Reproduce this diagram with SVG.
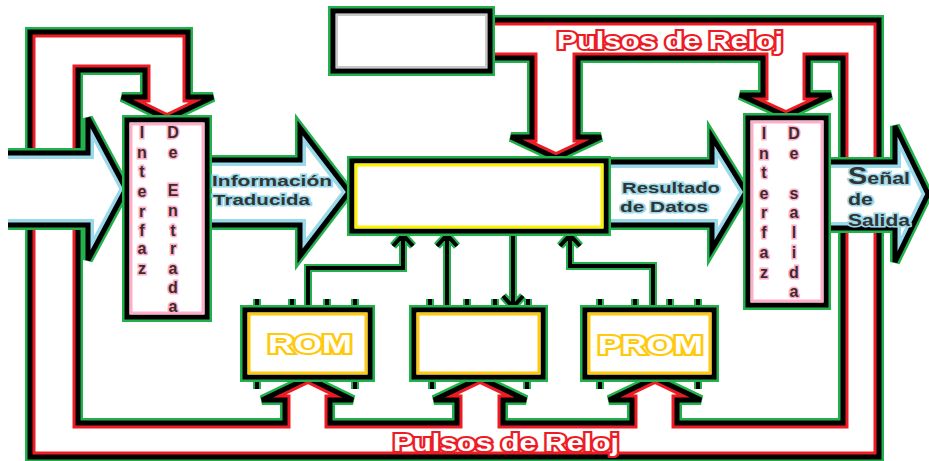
<svg xmlns="http://www.w3.org/2000/svg" width="929" height="461" viewBox="0 0 929 461">
<defs>
<style>
.g{fill:none;stroke:#22b14c;stroke-width:10}
.k{fill:none;stroke:#000;stroke-width:5}
.w{fill:#fff;stroke:none}
.rg{fill:none;stroke:#ed1c24;stroke-width:11}
.bg{fill:none;stroke:#99d9ea;stroke-width:12}
.cg{fill:none;stroke:#22b14c;stroke-width:8}
.ck{fill:none;stroke:#000;stroke-width:4}
.bx{fill:#fff;stroke:#000;stroke-width:5}
.bxg{fill:none;stroke:#22b14c;stroke-width:10}
.t{font-family:"Liberation Sans",Arial,sans-serif;font-weight:bold}
.lt{font-size:16px;fill:#3b2b2b;stroke:#ffaec9;stroke-width:3;paint-order:stroke;text-anchor:middle}
.at{font-size:15px;fill:#333;stroke:#99d9ea;stroke-width:3;paint-order:stroke}
.st{font-size:17px;fill:#333;stroke:#99d9ea;stroke-width:3;paint-order:stroke}
.pt{font-size:24px;fill:#fff;stroke:#ed1c24;stroke-width:4;paint-order:stroke}
.mt{font-size:25px;fill:#fff;stroke:#ffc90e;stroke-width:4;paint-order:stroke}
</style>
<path id="pA" d="M30,165 V32 H188 V97 H213 L167,119 L122,97 H145 V70 H78 V165"/>
<path id="pC" d="M480,20 H879 V170 H843 V58 H808 V95 H831 L786,116 L740,95 H763 V58 H578 V137 H601 L556,158 L511,137 H532 V58 H480"/>
<path id="pD" d="M78,215 V423 H285 V400 H262 L308,378 L353,400 H330 V423 H457 V400 H434 L480,378 L526,400 H503 V423 H632 V400 H609 L655,378 L701,400 H677 V423 H843 V220 H879 V457 H30 V215"/>
<path id="aE" d="M8,153 H88 V118 L126,189 L88,260 V225 H8"/>
<path id="aF" d="M200,160 H300 V128 L349,192 L300,256 V225 H200"/>
<path id="aG" d="M600,162 H712 V137 L746,192 L712,249 V225 H600"/>
<path id="aH" d="M820,162 H895 V126 L928,194 L895,262 V228 H820"/>
<clipPath id="cA"><use href="#pA"/></clipPath>
<clipPath id="cC"><use href="#pC"/></clipPath>
<clipPath id="cD"><use href="#pD"/></clipPath>
<clipPath id="cE"><use href="#aE"/></clipPath>
<clipPath id="cF"><use href="#aF"/></clipPath>
<clipPath id="cG"><use href="#aG"/></clipPath>
<clipPath id="cH"><use href="#aH"/></clipPath>
</defs>
<rect width="929" height="461" fill="#fff"/>

<g id="connectors">
  <g id="clock-top-left"><use href="#pA" class="g"/><use href="#pA" class="w"/><use href="#pA" class="rg" clip-path="url(#cA)"/><use href="#pA" class="k"/></g>
  <g id="clock-top"><use href="#pC" class="g"/><use href="#pC" class="w"/><use href="#pC" class="rg" clip-path="url(#cC)"/><use href="#pC" class="k"/></g>
  <g id="clock-bottom"><use href="#pD" class="g"/><use href="#pD" class="w"/><use href="#pD" class="rg" clip-path="url(#cD)"/><use href="#pD" class="k"/></g>
  <g id="arrow-in"><use href="#aE" class="g"/><use href="#aE" class="w"/><use href="#aE" class="bg" clip-path="url(#cE)"/><use href="#aE" class="k"/></g>
  <g id="arrow-info"><use href="#aF" class="g"/><use href="#aF" class="w"/><use href="#aF" class="bg" clip-path="url(#cF)"/><use href="#aF" class="k"/></g>
  <g id="arrow-result"><use href="#aG" class="g"/><use href="#aG" class="w"/><use href="#aG" class="bg" clip-path="url(#cG)"/><use href="#aG" class="k"/></g>
  <g id="arrow-out"><use href="#aH" class="g"/><use href="#aH" class="w"/><use href="#aH" class="bg" clip-path="url(#cH)"/><use href="#aH" class="k"/></g>
  <g id="buses">
    <path class="cg" d="M308,305 V268 H403 V236 M393,246 L403,235 L413,246 M447,305 V236 M437,246 L447,235 L457,246 M513,234 V306 M503,296 L513,307 L523,296 M653,305 V266 H570 V236 M560,246 L570,235 L580,246"/>
    <path class="ck" d="M308,305 V268 H403 V236 M393,246 L403,235 L413,246 M447,305 V236 M437,246 L447,235 L457,246 M513,234 V306 M503,296 L513,307 L523,296 M653,305 V266 H570 V236 M560,246 L570,235 L580,246"/>
  </g>
</g>

<g id="box-top">
  <rect x="333" y="11" width="157" height="60" class="bxg"/>
  <rect x="333" y="11" width="157" height="60" class="bx"/>
  <rect x="337" y="15" width="149" height="52" fill="none" stroke="#c8c8c8" stroke-width="2"/>
</g>

<g id="box-cpu">
  <rect x="352" y="161" width="254" height="70" class="bxg"/>
  <rect x="352" y="161" width="254" height="70" class="bx"/>
  <rect x="356" y="165" width="246" height="62" fill="none" stroke="#fff200" stroke-width="3"/>
</g>

<g id="interfaz-entrada">
  <rect x="127" y="120" width="80" height="197" class="bxg"/>
  <rect x="127" y="120" width="80" height="197" class="bx"/>
  <rect x="131" y="124" width="72" height="189" fill="none" stroke="#ffaec9" stroke-width="3"/>
  <g class="t lt">
    <text x="142" y="138">I</text><text x="142" y="158">n</text><text x="142" y="177">t</text><text x="142" y="197">e</text><text x="142" y="217">r</text><text x="142" y="236">f</text><text x="142" y="254">a</text><text x="142" y="274">z</text>
    <text x="173" y="138">D</text><text x="173" y="158">e</text><text x="173" y="196">E</text><text x="173" y="216">n</text><text x="173" y="236">t</text><text x="173" y="254">r</text><text x="173" y="274">a</text><text x="173" y="293">d</text><text x="173" y="312">a</text>
  </g>
</g>

<g id="interfaz-salida">
  <rect x="748" y="118" width="78" height="187" class="bxg"/>
  <rect x="748" y="118" width="78" height="187" class="bx"/>
  <rect x="752" y="122" width="70" height="179" fill="none" stroke="#ffaec9" stroke-width="3"/>
  <g class="t lt">
    <text x="764" y="139">I</text><text x="764" y="159">n</text><text x="764" y="178">t</text><text x="764" y="199">e</text><text x="764" y="218">r</text><text x="764" y="238">f</text><text x="764" y="258">a</text><text x="764" y="278">z</text>
    <text x="794" y="139">D</text><text x="794" y="159">e</text><text x="794" y="199">s</text><text x="794" y="218">a</text><text x="794" y="238">l</text><text x="794" y="258">i</text><text x="794" y="278">d</text><text x="794" y="297">a</text>
  </g>
</g>

<g id="rom">
  <path class="cg" d="M257,299V310 M292,299V310 M327,299V310 M355,299V310 M257,377V389 M355,377V389"/>
  <path class="ck" d="M257,299V310 M292,299V310 M327,299V310 M355,299V310 M257,377V389 M355,377V389"/>
  <rect x="245" y="310" width="125" height="67" class="bxg"/>
  <rect x="245" y="310" width="125" height="67" class="bx"/>
  <rect x="249" y="314" width="117" height="59" fill="none" stroke="#ffc90e" stroke-width="3"/>
  <text class="t mt" x="268" y="353" textLength="84" lengthAdjust="spacingAndGlyphs">ROM</text>
</g>

<g id="ram">
  <path class="cg" d="M430,299V310 M467,299V310 M495,299V310 M528,299V310 M432,377V389 M527,377V389"/>
  <path class="ck" d="M430,299V310 M467,299V310 M495,299V310 M528,299V310 M432,377V389 M527,377V389"/>
  <rect x="414" y="310" width="129" height="67" class="bxg"/>
  <rect x="414" y="310" width="129" height="67" class="bx"/>
  <rect x="418" y="314" width="121" height="59" fill="none" stroke="#ffc90e" stroke-width="3"/>
</g>

<g id="prom">
  <path class="cg" d="M600,299V310 M635,299V310 M670,299V310 M698,299V310 M600,377V389 M698,377V389"/>
  <path class="ck" d="M600,299V310 M635,299V310 M670,299V310 M698,299V310 M600,377V389 M698,377V389"/>
  <rect x="585" y="310" width="129" height="67" class="bxg"/>
  <rect x="585" y="310" width="129" height="67" class="bx"/>
  <rect x="589" y="314" width="121" height="59" fill="none" stroke="#ffc90e" stroke-width="3"/>
  <text class="t mt" x="598" y="354" textLength="105" lengthAdjust="spacingAndGlyphs">PROM</text>
</g>

<g id="labels">
  <text class="t at" x="212" y="186" textLength="120" lengthAdjust="spacingAndGlyphs">Información</text>
  <text class="t at" x="213" y="205" textLength="97" lengthAdjust="spacingAndGlyphs">Traducida</text>
  <text class="t at" x="622" y="193" textLength="98" lengthAdjust="spacingAndGlyphs">Resultado</text>
  <text class="t at" x="620" y="212" textLength="88" lengthAdjust="spacingAndGlyphs">de Datos</text>
  <text class="t st" x="848" y="184" textLength="62" lengthAdjust="spacingAndGlyphs"><tspan style="font-size:23px">S</tspan>eñal</text>
  <text class="t st" x="848" y="205" textLength="25" lengthAdjust="spacingAndGlyphs">de</text>
  <text class="t st" x="848" y="226" textLength="62" lengthAdjust="spacingAndGlyphs">Salida</text>
  <text class="t pt" x="557" y="49" textLength="226" lengthAdjust="spacingAndGlyphs">Pulsos de Reloj</text>
  <text class="t pt" x="393" y="451" textLength="226" lengthAdjust="spacingAndGlyphs">Pulsos de Reloj</text>
</g>
</svg>
